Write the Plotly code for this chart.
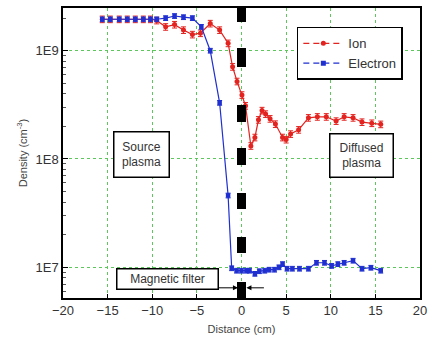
import plotly.graph_objects as go

# ---------------- data ----------------
ion_x = [-15.6, -14.7, -13.7, -12.8, -11.9, -11.0, -10.2, -9.5, -8.5, -7.5, -6.5, -5.5,
         -4.6, -3.5, -2.45, -1.5, -1.0, -0.5, 0.05, 0.45, 1.05, 1.5, 1.9, 2.3, 2.7, 3.2,
         3.8, 4.6, 5.0, 5.5, 6.4, 7.5, 8.5, 9.5, 10.6, 11.5, 12.5, 13.5, 14.6, 15.6]
ion_y = [1.95e9, 1.95e9, 1.95e9, 1.95e9, 1.95e9, 1.95e9, 1.95e9, 1.9e9, 1.66e9, 1.74e9,
         1.55e9, 1.41e9, 1.45e9, 1.78e9, 1.55e9, 1.17e9, 7.1e8, 5.2e8, 3.9e8, 3.1e8,
         1.32e8, 1.58e8, 2.3e8, 2.8e8, 2.6e8, 2.35e8, 2.1e8, 1.58e8, 1.51e8, 1.7e8,
         1.86e8, 2.4e8, 2.45e8, 2.45e8, 2.24e8, 2.45e8, 2.4e8, 2.19e8, 2.14e8, 2.09e8]

ele_x = [-15.6, -14.7, -13.7, -12.8, -11.9, -11.0, -10.2, -9.5, -8.5, -7.5, -6.5, -5.5,
         -4.5, -3.5, -2.45, -1.5, -1.1, -0.55, 0.0, 0.55, 0.9, 1.5, 2.0, 2.6, 3.1, 3.7,
         4.2, 4.6, 5.1, 5.7, 6.5, 7.5, 8.4, 9.3, 10.1, 10.8, 11.5, 12.5, 13.5, 14.5, 15.6]
ele_y = [1.95e9, 1.95e9, 1.95e9, 1.95e9, 1.95e9, 1.95e9, 1.95e9, 1.95e9, 2.0e9, 2.09e9,
         2.04e9, 2.0e9, 1.66e9, 1.0e9, 3.3e8, 4.6e7, 9.8e6, 9.3e6, 9.3e6, 9.3e6, 9.3e6,
         8.7e6, 9.2e6, 9.3e6, 9.5e6, 9.5e6, 1.0e7, 1.07e7, 9.7e6, 9.7e6, 9.7e6, 9.7e6,
         1.1e7, 1.1e7, 1.03e7, 1.07e7, 1.1e7, 1.15e7, 9.7e6, 9.9e6, 9.3e6]

x_ticks = [-20, -15, -10, -5, 0, 5, 10, 15, 20]
y_ticks = [1e7, 1e8, 1e9]
y_tick_labels = ["1E7", "1E8", "1E9"]
y_minor = [k * 10 ** n for n in (6, 7, 8, 9) for k in range(2, 10)]

x_range = [-20, 20]
y_range_log = [6.716, 9.394]

RED = "#e3231f"
BLUE = "#1f2fd0"
GRID = "#5cc85c"
FONT = "Liberation Sans, Arial, sans-serif"

fig = go.Figure()

fig.add_trace(go.Scatter(
    x=ion_x, y=ion_y, mode="lines+markers", showlegend=False,
    line=dict(color=RED, width=1.2),
    marker=dict(symbol="circle", size=5, color=RED),
    error_y=dict(type="percent", value=7, color=RED, thickness=1, width=2.5),
))
fig.add_trace(go.Scatter(
    x=ele_x, y=ele_y, mode="lines+markers", showlegend=False,
    line=dict(color=BLUE, width=1.2),
    marker=dict(symbol="square", size=4.5, color=BLUE),
    error_y=dict(type="percent", value=5, color=BLUE, thickness=1, width=2.5),
))
# legend-only entries (dashed style as in the reference legend)
fig.add_trace(go.Scatter(
    x=[None], y=[None], mode="lines+markers", name="Ion",
    line=dict(color=RED, width=1.2, dash="6px,4px"),
    marker=dict(symbol="circle", size=5, color=RED),
))
fig.add_trace(go.Scatter(
    x=[None], y=[None], mode="lines+markers", name="Electron",
    line=dict(color=BLUE, width=1.2, dash="6px,4px"),
    marker=dict(symbol="square", size=5, color=BLUE),
))

# magnetic filter: thick black dashed line at x = 0 (drawn bottom to top)
fig.add_shape(type="line", xref="x", yref="paper", x0=0, x1=0, y0=0, y1=1,
              line=dict(color="black", width=9,
                        dash="16px,29px,16px,28px,16px,28px,17px,26px,17px,38px,19px,26px,18px,20px"),
              layer="above")

box_font = dict(family=FONT, size=12, color="#333")
fig.add_annotation(x=-11.2, y=8.04, xref="x", yref="y", text="Source<br>plasma",
                   showarrow=False, font=box_font, bgcolor="white",
                   bordercolor="black", borderwidth=1.5, width=52, height=42)
fig.add_annotation(x=13.45, y=8.03, xref="x", yref="y", text="Diffused<br>plasma",
                   showarrow=False, font=box_font, bgcolor="white",
                   bordercolor="black", borderwidth=1.5, width=60, height=40)
fig.add_annotation(x=-8.3, y=6.894, xref="x", yref="y", text="Magnetic filter",
                   showarrow=False, font=box_font, bgcolor="white",
                   bordercolor="black", borderwidth=1.5, width=98, height=17)
# arrows pointing at the filter
fig.add_annotation(x=-0.4, y=6.81, xref="x", yref="y", text="", showarrow=True,
                   ax=-21, ay=0, arrowhead=2, arrowsize=1, arrowwidth=1, arrowcolor="black")
fig.add_annotation(x=0.55, y=6.81, xref="x", yref="y", text="", showarrow=True,
                   ax=19, ay=0, arrowhead=2, arrowsize=1, arrowwidth=1, arrowcolor="black")

fig.update_layout(
    width=433, height=346,
    margin=dict(l=63, r=9, t=6, b=48),
    plot_bgcolor="white", paper_bgcolor="white",
    font=dict(family=FONT, color="#333"),
    legend=dict(x=0.655, y=0.935, xanchor="left", yanchor="top",
                bordercolor="black", borderwidth=1.5, bgcolor="white",
                font=dict(family=FONT, size=13, color="#333"),
                tracegroupgap=0, itemwidth=40),
)
fig.update_xaxes(
    range=x_range, tickvals=x_ticks, ticks="inside", ticklen=4, tickcolor="black",
    showline=True, linecolor="black", linewidth=1.5, mirror=True,
    showgrid=True, gridcolor=GRID, griddash="dot", gridwidth=1, zeroline=False,
    tickfont=dict(family=FONT, size=13, color="#333"),
    title=dict(text="Distance (cm)", font=dict(family=FONT, size=11, color="#444"), standoff=8),
)
fig.update_yaxes(
    type="log", range=y_range_log, tickvals=y_ticks, ticktext=y_tick_labels,
    ticks="inside", ticklen=5, tickcolor="black",
    minor=dict(tickvals=y_minor, ticks="inside", ticklen=3, tickcolor="#555", showgrid=False),
    showline=True, linecolor="black", linewidth=1.5, mirror=True,
    showgrid=True, gridcolor=GRID, griddash="dot", gridwidth=1, zeroline=False,
    tickfont=dict(family=FONT, size=13, color="#333"),
    title=dict(text="Density (cm<sup>-3</sup>)", font=dict(family=FONT, size=11, color="#444"), standoff=6),
)

fig.write_html("out.html")
